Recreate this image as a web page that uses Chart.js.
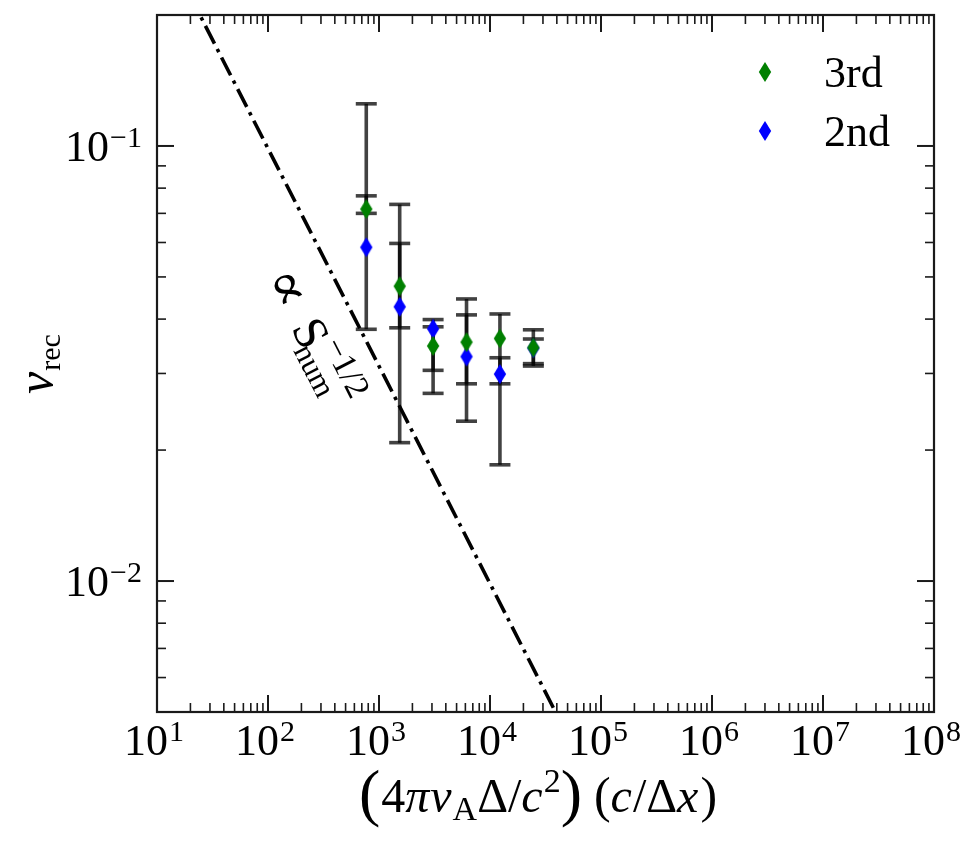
<!DOCTYPE html>
<html>
<head>
<meta charset="utf-8">
<script src="https://cdn.jsdelivr.net/npm/chart.js@4.4.0/dist/chart.umd.min.js"></script>
<style>
  html, body { margin: 0; padding: 0; background: #fff; }
  #wrap { width: 977px; height: 842px; }
</style>
</head>
<body>
<div id="wrap"><canvas id="grafico" width="977" height="842"></canvas></div>
<script>
// dados
const resolucoes = [768, 1536, 3072, 6144, 12288, 24576];
const vrec3 = [0.0716, 0.0476, 0.0347, 0.0354, 0.0361, 0.0344];
const vrec2 = [0.0585, 0.0427, 0.0380, 0.0328, 0.0299, 0.0343];
const erro3Min = [0.0700, 0.0382, 0.0270, 0.0284, 0.0284, 0.0316];
const erro3Max = [0.0768, 0.0597, 0.0384, 0.0409, 0.0411, 0.0360];
const erro2Min = [0.0379, 0.0208, 0.0305, 0.0233, 0.0185, 0.0312];
const erro2Max = [0.1250, 0.0734, 0.0399, 0.0445, 0.0326, 0.0378];
const retaX = [10, 100000];
const retaY = [0.312, 0.00312];
const ticksX = [1e1, 1e2, 1e3, 1e4, 1e5, 1e6, 1e7, 1e8];
const expoentesX = ['1', '2', '3', '4', '5', '6', '7', '8'];
const ticksY = [0.01, 0.1];
const expoentesY = ['\u22122', '\u22121'];
const legendas = ['3rd', '2nd'];
const cores = ['#008000', '#0000ff'];

const fonte = '"Liberation Serif", "DejaVu Serif", serif';
const corErro = 'rgba(0, 0, 0, 0.74)';

// losango fino, como o marcador 'd' do matplotlib
function criarLosango(cor) {
  const c = document.createElement('canvas');
  c.width = 14; c.height = 22;
  const g = c.getContext('2d');
  g.fillStyle = cor;
  g.beginPath();
  g.moveTo(7, 1); g.lineTo(13.2, 11); g.lineTo(7, 21); g.lineTo(0.8, 11);
  g.closePath();
  g.fill();
  return c;
}
const losangos = cores.map(criarLosango);

function desenharTrecho(ctx, pedacos, x, y) {
  let cx = x;
  pedacos.forEach(p => {
    ctx.font = `${p.estilo || ''} ${p.tam}px ${p.familia || fonte}`;
    ctx.fillText(p.t, cx, y + (p.dy || 0));
    cx += ctx.measureText(p.t).width + (p.gap || 0);
  });
  return cx - x;
}

function larguraTrecho(ctx, pedacos) {
  let w = 0;
  pedacos.forEach(p => {
    ctx.font = `${p.estilo || ''} ${p.tam}px ${p.familia || fonte}`;
    w += ctx.measureText(p.t).width + (p.gap || 0);
  });
  return w;
}

function potencia(exp) {
  return [{ t: '10', tam: 44, gap: 1 }, { t: exp, tam: 30, dy: -14 }];
}

const moldura = {
  id: 'moldura',
  afterDatasetsDraw(chart) {
    const { ctx, chartArea: a, scales: { x, y } } = chart;
    ctx.save();
    ctx.strokeStyle = '#1a1a1a';
    ctx.lineCap = 'butt';

    function traco(x1, y1, x2, y2, w) {
      ctx.lineWidth = w;
      ctx.beginPath(); ctx.moveTo(x1, y1); ctx.lineTo(x2, y2); ctx.stroke();
    }

    // ticks do eixo x (para dentro)
    for (let d = 1; d <= 8; d++) {
      for (let m = 1; m <= 9; m++) {
        const v = m * Math.pow(10, d);
        if (v > 1e8) break;
        const px = x.getPixelForValue(v);
        const len = m === 1 ? 17 : 9;
        const w = m === 1 ? 2 : 1.6;
        traco(px, a.bottom, px, a.bottom - len, w);
        traco(px, a.top, px, a.top + len, w);
      }
    }
    // ticks do eixo y
    for (let d = -3; d <= -1; d++) {
      for (let m = 1; m <= 9; m++) {
        const v = m * Math.pow(10, d);
        if (v < 0.005 || v > 0.2) continue;
        const py = y.getPixelForValue(v);
        const len = m === 1 ? 17 : 9;
        const w = m === 1 ? 2 : 1.6;
        traco(a.left, py, a.left + len, py, w);
        traco(a.right, py, a.right - len, py, w);
      }
    }
    ctx.lineWidth = 2.2;
    ctx.strokeRect(a.left, a.top, a.right - a.left, a.bottom - a.top);

    // rótulos dos ticks
    ctx.fillStyle = '#000';
    ctx.textBaseline = 'alphabetic';
    ctx.textAlign = 'left';
    ticksX.forEach((v, i) => {
      const p = potencia(expoentesX[i]);
      const w = larguraTrecho(ctx, p);
      desenharTrecho(ctx, p, x.getPixelForValue(v) - w / 2 - 3, a.bottom + 43);
    });
    ticksY.forEach((v, i) => {
      const p = potencia(expoentesY[i]);
      const w = larguraTrecho(ctx, p);
      desenharTrecho(ctx, p, a.left - 15 - w, y.getPixelForValue(v) + 15);
    });

    // título do eixo x
    const tituloX = [
      { t: '(', tam: 64, dy: 2, gap: 1 },
      { t: '4', tam: 48 },
      { t: '\u03c0', tam: 48, estilo: 'italic', gap: 1 },
      { t: 'v', tam: 48, estilo: 'italic', gap: 1 },
      { t: 'A', tam: 34, dy: 8 },
      { t: '\u0394', tam: 48 },
      { t: '/', tam: 48 },
      { t: 'c', tam: 48, estilo: 'italic', gap: 1 },
      { t: '2', tam: 34, dy: -20 },
      { t: ')', tam: 64, dy: 2, gap: 12 },
      { t: '(', tam: 50 },
      { t: 'c', tam: 48, estilo: 'italic', gap: 1 },
      { t: '/', tam: 48 },
      { t: '\u0394', tam: 48 },
      { t: 'x', tam: 48, estilo: 'italic', gap: 2 },
      { t: ')', tam: 50 }
    ];
    const wx = larguraTrecho(ctx, tituloX);
    desenharTrecho(ctx, tituloX, 538 - wx / 2, 812);

    // título do eixo y
    const tituloY = [
      { t: 'v', tam: 50, estilo: 'italic', gap: 1 },
      { t: 'rec', tam: 30, dy: 8 }
    ];
    const wy = larguraTrecho(ctx, tituloY);
    ctx.save();
    ctx.translate(52, 364);
    ctx.rotate(-Math.PI / 2);
    desenharTrecho(ctx, tituloY, -wy / 2, 0);
    ctx.restore();

    // anotação ao longo da reta
    const p0x = x.getPixelForValue(retaX[0]), p0y = y.getPixelForValue(retaY[0]);
    const p1x = x.getPixelForValue(retaX[1]), p1y = y.getPixelForValue(retaY[1]);
    const ang = Math.atan2(p1y - p0y, p1x - p0x);
    ctx.save();
    ctx.translate(287, 288);
    ctx.rotate(ang);
    ctx.textAlign = 'center';
    ctx.font = `56px "DejaVu Serif", serif`;
    ctx.fillText('\u221d', 0, 17);
    ctx.font = `48px ${fonte}`;
    ctx.fillText('S', 51, 15);
    ctx.font = `31px ${fonte}`;
    ctx.fillText('num', 86, 23);
    ctx.font = `34px ${fonte}`;
    ctx.fillText('\u22121/2', 98, -6);
    ctx.restore();

    // legenda
    ctx.textAlign = 'left';
    legendas.forEach((txt, i) => {
      const ly = 72 + i * 59;
      ctx.drawImage(losangos[i], 765 - 7, ly - 11);
      ctx.font = `44px ${fonte}`;
      ctx.fillText(txt, 824, ly + 15);
    });

    ctx.restore();
  }
};

// barras de erro: uma linha com traço horizontal nas pontas
function barraErro(xv, lo, hi) {
  return {
    type: 'line',
    data: [{ x: xv, y: lo }, { x: xv, y: hi }],
    borderColor: corErro,
    borderWidth: 3.6,
    pointStyle: 'line',
    pointRadius: 10.5,
    pointBorderWidth: 3.6,
    pointBorderColor: corErro,
    pointHoverRadius: 10.5,
    order: 2
  };
}

const conjuntos = [
  {
    label: legendas[0],
    data: resolucoes.map((r, i) => ({ x: r, y: vrec3[i] })),
    pointStyle: losangos[0],
    order: 0
  },
  {
    label: legendas[1],
    data: resolucoes.map((r, i) => ({ x: r, y: vrec2[i] })),
    pointStyle: losangos[1],
    order: 1
  },
  {
    type: 'line',
    data: retaX.map((r, i) => ({ x: r, y: retaY[i] })),
    borderColor: '#000',
    borderWidth: 3.6,
    borderDash: [20, 6, 3.5, 6],
    pointRadius: 0,
    order: 3
  }
];
resolucoes.forEach((r, i) => {
  conjuntos.push(barraErro(r, erro3Min[i], erro3Max[i]));
  conjuntos.push(barraErro(r, erro2Min[i], erro2Max[i]));
});

const ctx = document.getElementById('grafico').getContext('2d');
new Chart(ctx, {
  type: 'scatter',
  data: { datasets: conjuntos },
  options: {
    responsive: false,
    animation: false,
    devicePixelRatio: 1,
    layout: { padding: { left: 157, right: 43, top: 15, bottom: 130 } },
    scales: {
      x: { type: 'logarithmic', min: 10, max: 1e8, display: false },
      y: { type: 'logarithmic', min: 0.005, max: 0.2, display: false }
    },
    plugins: {
      legend: { display: false },
      tooltip: { enabled: false }
    }
  },
  plugins: [moldura]
});
</script>
</body>
</html>
